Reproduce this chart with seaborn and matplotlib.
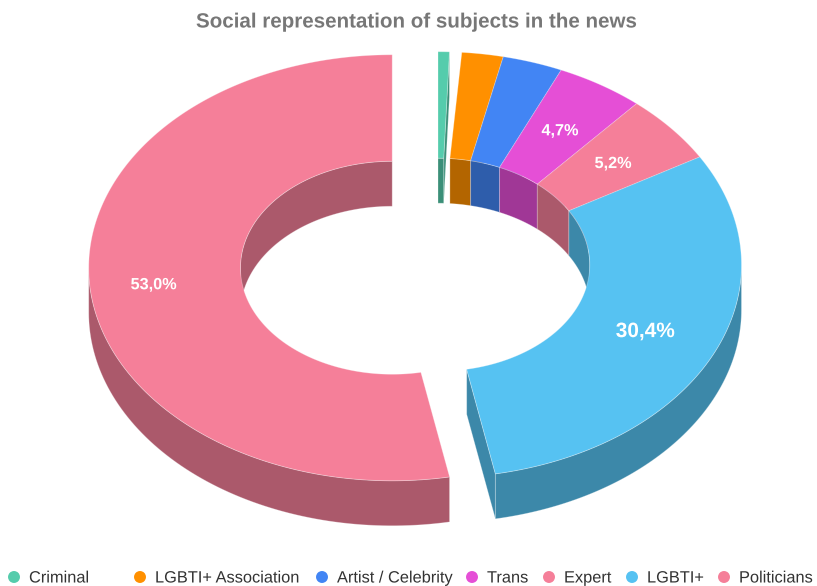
import numpy as np
import pandas as pd
import matplotlib
matplotlib.use("Agg")
import matplotlib.pyplot as plt
import matplotlib.patheffects as pe
import seaborn as sns

# Shares of each subject group, clockwise from twelve o'clock
categories = ["Criminal", "LGBTI+ Association", "Artist / Celebrity", "Trans",
              "Expert", "LGBTI+", "Politicians"]
shares = [0.6, 2.2, 3.2, 4.7, 5.2, 30.4, 53.0]
blank_after_first = 0.65  # empty wedge left open right after the first group
label_text = {"Trans": "4,7%", "Expert": "5,2%", "LGBTI+": "30,4%", "Politicians": "53,0%"}
colors = ["#55CCAC", "#FF9000", "#4285F4", "#E54FD6", "#F57F99", "#56C2F2", "#F57F99"]

# Ring layout, in pixels
CX, CY = 438.0, 264.7
RX, RY = 303.5, 213.0
HOLE = 0.5
DEPTH = 45.0
PULL = {"Politicians": 46.0}
LABEL_R = {"Trans": 0.75, "Expert": 0.75, "LGBTI+": 0.75, "Politicians": 0.79}
LABEL_SIZE = {"Trans": 11.7, "Expert": 11.7, "LGBTI+": 15.0, "Politicians": 11.7}
LEGEND_X = [14, 140, 322, 472, 549, 632, 724]
LEGEND_Y = 577
LEGEND_BASELINE = 582.5

sns.set_theme(style="white")
plt.rcParams["font.family"] = ["Liberation Sans", "DejaVu Sans"]

palette = sns.color_palette(colors)
wall_palette = [tuple(c * 0.7 for c in rgb) for rgb in palette]
# Text is drawn as outlines so every string keeps its exact sub-pixel position
outline_text = [pe.Normal()]

fig = plt.figure(figsize=(8.17, 5.86), dpi=100)
ax = fig.add_axes([0, 0, 1, 1])
ax.set_xlim(0, 817)
ax.set_ylim(586, 0)
ax.axis("off")


def ring_xy(theta, radius, cx, cy, drop=0.0):
    """Screen position on the ring; theta is in radians, clockwise from the top."""
    return (cx + radius * RX * np.sin(theta),
            cy - radius * RY * np.cos(theta) + drop)


# Work out every wedge's span and centre first
total = sum(shares) + blank_after_first
wedges = []
position = 0.0
for i, (name, share) in enumerate(zip(categories, shares)):
    start = position / total * 2 * np.pi
    end = (position + share) / total * 2 * np.pi
    position += share + (blank_after_first if i == 0 else 0.0)
    mid = (start + end) / 2
    pull = PULL.get(name, 0.0)
    cx = CX + pull * np.sin(mid)
    cy = CY - pull * np.cos(mid) * RY / RX
    wedges.append(dict(name=name, start=start, end=end, mid=mid, cx=cx, cy=cy,
                       top=palette[i], wall=wall_palette[i]))

seam = dict(edgecolor=(1, 1, 1, 0.3), linewidth=0.6)


def radial_face(w, theta):
    xo, yo = ring_xy(theta, 1.0, w["cx"], w["cy"])
    xi, yi = ring_xy(theta, HOLE, w["cx"], w["cy"])
    ax.fill([xo, xi, xi, xo], [yo, yi, yi + DEPTH, yo + DEPTH],
            facecolor=w["wall"], zorder=1, **seam)


def curved_wall(w, radius, lo, hi, zorder):
    if hi <= lo:
        return
    t = np.linspace(lo, hi, 80)
    x, y = ring_xy(t, radius, w["cx"], w["cy"])
    ax.fill(np.r_[x, x[::-1]], np.r_[y, y[::-1] + DEPTH],
            facecolor=w["wall"], zorder=zorder, **seam)


for w in wedges:
    # Side faces that turn toward the viewer
    if np.sin(w["end"]) > 0:
        radial_face(w, w["end"])
    if np.sin(w["start"]) < 0:
        radial_face(w, w["start"])
    # The hole shows only its far half, the rim only its near half
    curved_wall(w, HOLE, w["start"], min(w["end"], np.pi / 2), 2)
    curved_wall(w, HOLE, max(w["start"], 3 * np.pi / 2), w["end"], 2)
    curved_wall(w, 1.0, max(w["start"], np.pi / 2), min(w["end"], 3 * np.pi / 2), 3)

for w in wedges:
    t = np.linspace(w["start"], w["end"], 200)
    xo, yo = ring_xy(t, 1.0, w["cx"], w["cy"])
    xi, yi = ring_xy(t, HOLE, w["cx"], w["cy"])
    ax.fill(np.r_[xo, xi[::-1]], np.r_[yo, yi[::-1]],
            facecolor=w["top"], zorder=4, **seam)
    if w["name"] in label_text:
        lx, ly = ring_xy(w["mid"], LABEL_R[w["name"]], w["cx"], w["cy"])
        ax.text(lx, ly + 1, label_text[w["name"]], color="white", fontweight="bold",
                fontsize=LABEL_SIZE[w["name"]], ha="center", va="center", zorder=5,
                path_effects=outline_text)

ax.text(416, 22, "Social representation of subjects in the news", color="#777777",
        fontweight="bold", fontsize=14.8, ha="center", va="center",
        path_effects=outline_text)

# Legend row
legend_df = pd.DataFrame({"x": LEGEND_X, "y": [LEGEND_Y] * len(categories), "group": categories})
sns.scatterplot(data=legend_df, x="x", y="y", hue="group", hue_order=categories,
                palette=palette, s=74, linewidth=0, legend=False, ax=ax, clip_on=False)
ax.set_xlim(0, 817)
ax.set_ylim(586, 0)
ax.axis("off")
for x, name in zip(LEGEND_X, categories):
    ax.text(x + 15, LEGEND_BASELINE, name, color="#333333", fontsize=11.8,
            ha="left", va="baseline", path_effects=outline_text)

fig.savefig("out.png", dpi=100, facecolor="white")
